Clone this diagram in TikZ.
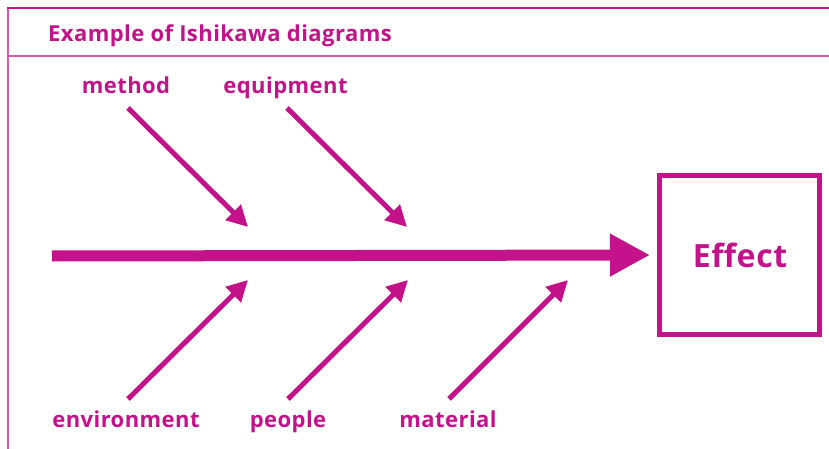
\documentclass[tikz,border=0pt]{standalone}
\usepackage{fontspec}
\setmainfont{Open Sans}[LetterSpace=2]
\usetikzlibrary{arrows.meta}
\definecolor{ishi}{RGB}{196,18,138}
\definecolor{ishilight}{RGB}{214,90,168}
\begin{document}
\begin{tikzpicture}[x=1pt,y=-1pt,
  lbl/.style={text=ishi,font=\fontsize{22}{24}\selectfont\bfseries,inner sep=0pt,anchor=base},
  bone/.style={draw=ishi,line width=5pt,-{Triangle[length=21pt,width=21pt]}},
  spine/.style={draw=ishi,line width=11pt,-{Triangle[length=40pt,width=40pt]}},
  effectbox/.style={draw=ishi,line width=5pt,minimum width=160pt,minimum height=159pt}]
\useasboundingbox (0,0) rectangle (829,449);
% frame
\draw[ishilight,line width=1.5pt] (8,449) -- (8,8);
\draw[ishi,line width=2pt] (7.3,8) -- (829,8);
\draw[ishilight,line width=1.6pt] (8,56) -- (829,56);
\node[lbl,anchor=base west] (title) at (48,41.5) {Example of Ishikawa diagrams};
% cause labels
\node[lbl] (method) at (126,94) {method};
\node[lbl] (equip) at (285.5,94) {equipment};
\node[lbl] (env) at (126,427) {environment};
\node[lbl] (people) at (288,427) {people};
\node[lbl] (material) at (448,427) {material};
% effect
\node[effectbox] (effect) at (739.5,255) {};
\node[lbl,font=\fontsize{32}{34}\selectfont\bfseries] (efftext) at (740,267) {Effect};
% spine
\coordinate (tail) at (52,256);
\draw[spine,shorten >=7pt] (tail) -- (effect.west);
% bone ends
\coordinate (m0) at (128,108); \coordinate (m1) at (248,227);
\coordinate (q0) at (287,108); \coordinate (q1) at (407,227);
\coordinate (e0) at (128,399); \coordinate (e1) at (248,280);
\coordinate (p0) at (288,399); \coordinate (p1) at (408,280);
\coordinate (t0) at (449,399); \coordinate (t1) at (568,280);
\draw[bone] (m0) -- (m1);
\draw[bone] (q0) -- (q1);
\draw[bone] (e0) -- (e1);
\draw[bone] (p0) -- (p1);
\draw[bone] (t0) -- (t1);
\end{tikzpicture}
\end{document}
